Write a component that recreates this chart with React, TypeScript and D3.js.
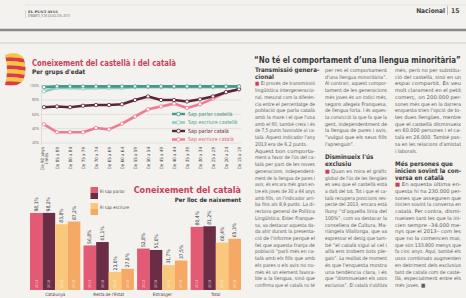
import React from 'react';
import * as d3 from 'd3';

// line chart: knowledge by age group (%)
const ageGroups = [
  'De 90 anys i més', 'De 85 a 89', 'De 80 a 84', 'De 75 a 79', 'De 70 a 74', 'De 65 a 69',
  'De 60 a 64', 'De 55 a 59', 'De 50 a 54', 'De 45 a 49', 'De 40 a 44', 'De 35 a 39',
  'De 30 a 34', 'De 25 a 29', 'De 20 a 24', 'De 15 a 19',
];
const parlarCastella = [98, 99, 99, 99, 99, 99, 99, 99, 99, 99, 99, 99, 99, 99, 99, 99];
const escriureCastella = [92, 97, 97, 96, 97, 97, 97, 98, 98, 98, 98, 98, 98, 98, 98, 99];
const parlarCatala = [70, 71, 70, 72, 73, 73, 74, 80, 85, 80, 80, 78, 81, 85, 91, 95];
const escriureCatala = [46, 35, 35, 35, 41, 39, 47, 57, 67, 71, 75, 69, 74, 82, 91, 95];
const lineTicks = [100, 80, 60, 40, 20];
const lineLegend = ['Sap parlar castellà', 'Sap escriure castellà', 'Sap parlar català', 'Sap escriure català'];

// bar chart: knowledge of Catalan by birthplace (%)
const birthPlaces = ['Catalunya', "Resta de l'Estat", 'Estranger', 'Total'];
const barYears = ['2013', '2018', '2013', '2018'];
const parla2013 = [98.1, 56.8, 52.8, 80.4];
const parla2018 = [98.2, 61.1, 51.0, 81.2];
const escriu2013 = [83.8, 23.0, 31.7, 60.4];
const escriu2018 = [87.2, 27.0, 37.5, 65.3];
const barLegend = ['El sap parlar', 'El sap escriure'];

// article columns ("*" heading, "|" end of paragraph)
const col1 = [
  '*Transmissió genera-', '*cional',
  '■ El procés de transmissió', 'lingüística intergeneracio-', 'nal, mesurat com la diferèn-',
  'cia entre el percentatge de', 'població que parla català', "amb la mare i el que l'usa",
  'amb el fill, també creix i és', 'de 7,5 punts favorable al ca-', "talà. Aquest indicador l'any",
  '2013 era de 6,2 punts.|', '   Aquest bon comporta-', "ment a favor de l'ús del ca-",
  'talà per part de les noves', 'generacions, independent-', 'ment de la llengua de pares i',
  'avis, és encara més gran en-', 'tre els joves de 30 a 44 anys', "amb fills, on l'indicador arri-",
  'ba fins als 8,9 punts. La di-', 'rectora general de Política', 'Lingüística, Ester Franque-',
  'sa, va destacar aquesta da-', 'da ahir durant la presenta-', "ció de l'informe perquè el",
  'fet que aquesta franja de', 'població “parli més en ca-', 'talà amb els fills que amb',
  'els pares o els avis no no-', 'més és un element favora-', 'ble a la llengua, sinó que',
  'confirma que el català no té',
];
const col2 = [
  'per res el comportament', "d'una llengua minoritària”.", 'Al contrari, aquest compor-',
  'tament de les generacions', 'més joves és un indici més,', 'segons afegeix Franquesa,',
  'de llengua forta. I és aques-', 'ta convicció la que fa que la', 'gent, independentment de',
  'la llengua de pares i avis,', '“vulgui que els seus fills', "l'aprenguin”.|", '',
  "*Disminueix l'ús", '*exclusiu',
  '■ Quan es mira el gràfic', "global de l'ús de les llengües", 'es veu que el castellà està',
  'a dalt del tot. Tot i que el ca-', 'talà recupera posicions res-', 'pecte del 2013, encara està',
  'lluny “d’aquella línia del', '100%”, com va destacar la', 'consellera de Cultura, Ma-',
  'riàngela Vilallonga, que va', 'expressar el desig que tam-', 'bé “el català sigui al cel i',
  'allà ens trobem tots ple-', 'gats”. La realitat de moment', "és que l'enquesta mostra",
  'una tendència clara, i és', 'que “disminueixen els usos', "exclusius”. El català s'utilitza",
];
const col3 = [
  'més, però no per substitu-', 'ció del castellà, sinó en un', 'espai compartit. Es veu',
  'molt clarament en el petit', 'comerç, on 200.000 per-', 'sones més que en la darrera',
  "enquesta trien l'opció de to-", 'tes dues llengües, mentre', 'que el castellà disminueix',
  'en 60.000 persones i el ca-', 'talà en 26.000. També pas-', "sa en les relacions d'amistat",
  'i laborals.|', '',
  '*Més persones que', '*inicien sovint la con-', '*versa en català',
  '■ En aquesta última en-', 'questa hi ha 230.000 per-', 'sones que asseguren que',
  'inicien sovint la conversa en', 'català. Per contra, dismi-', 'nueixen tant les que la ini-',
  'cien sempre –34.000 me-', 'nys que el 2013– com les', 'que no la comencen mai,',
  'que són 133.800 menys que', 'fa cinc anys. Aquí, també els', 'usos combinats augmenten',
  'en detriment dels exclusius', 'tant de català com de caste-', 'llà, especialment entre els',
  'més joves. ■|',
];

const RED = '#c93f5b';
const NARROW = '"Liberation Sans Narrow", "DejaVu Sans Condensed", sans-serif';
const SANS = '"Open Sans", "Noto Sans", sans-serif';

const fmt = (v: number) => v.toFixed(1).replace('.', ',') + '%';

function LineChart() {
  const x = d3.scalePoint<string>().domain(ageGroups).range([44, 239]);
  const y = d3.scaleLinear().domain([20, 100]).range([143, 85.7]);
  const series = [
    { name: lineLegend[3], values: escriureCatala, color: '#f07a92', text: '#e0607a' },
    { name: lineLegend[2], values: parlarCatala, color: '#5b2438', text: '#5b2438' },
    { name: lineLegend[1], values: escriureCastella, color: '#8ccbbb', text: '#4f9f90' },
    { name: lineLegend[0], values: parlarCastella, color: '#44998b', text: '#3f8f82' },
  ];
  const line = d3.line<number>().x((_, i) => x(ageGroups[i])!).y((d) => y(d));
  const legendOrder = [series[3], series[2], series[1], series[0]];
  return (
    <g>
      {lineTicks.map((t) => (
        <g key={t}>
          <line x1={41} x2={241} y1={y(t)} y2={y(t)} stroke="#d4d4d2" strokeWidth={0.6} />
          <text x={39} y={y(t) + 1.3} fontSize={3.6} textAnchor="end" fill="#666" fontFamily={SANS}>{t}%</text>
        </g>
      ))}
      <line x1={41.5} x2={41.5} y1={84} y2={145} stroke="#c9c9c6" strokeWidth={0.5} />
      {series.map((s) => (
        <g key={s.name}>
          <path d={line(s.values)!} fill="none" stroke={s.color} strokeWidth={2.6} strokeLinejoin="round" />
          {s.values.map((v, i) => (
            <circle key={i} cx={x(ageGroups[i])} cy={y(v)} r={1.7} fill="#fff" stroke={s.color} strokeWidth={0.8} />
          ))}
        </g>
      ))}
      {ageGroups.map((g) => {
        const parts = g === 'De 90 anys i més' ? ['De 90 anys', 'i més'] : [g];
        return (
          <g key={g} transform={`translate(${x(g)! + 1.5},147) rotate(-90)`}>
            {parts.map((p, j) => (
              <text key={p} x={parts.length > 1 && j === 1 ? -6 : 0} y={parts.length > 1 ? (j === 0 ? -2 : 2.6) : 0}
                fontSize={4.5} textAnchor="end" fill="#444" fontFamily={NARROW}>{p}</text>
            ))}
          </g>
        );
      })}
      {legendOrder.map((s, i) => {
        const ly = 114 + i * 8.5;
        return (
          <g key={s.name}>
            <line x1={172} x2={185} y1={ly} y2={ly} stroke={s.color} strokeWidth={2.4} />
            <circle cx={178.5} cy={ly} r={1.8} fill="#fff" stroke={s.color} strokeWidth={0.8} />
            <text x={188} y={ly + 1.8} fontSize={5.3} fill={s.text} fontFamily={NARROW}>{s.name}</text>
          </g>
        );
      })}
    </g>
  );
}

function BarChart() {
  const x0 = d3.scaleBand<string>().domain(birthPlaces).range([30, 241]).paddingInner(0.06);
  const x1 = d3.scaleBand<number>().domain([0, 1, 2, 3]).range([0, x0.bandwidth()]);
  const y = d3.scaleLinear().domain([0, 100]).range([290, 211.5]);
  const colors = ['#e35a74', '#6b2d46', '#f9c87c', '#f6a964'];
  const data = [parla2013, parla2018, escriu2013, escriu2018];
  return (
    <g>
      {birthPlaces.map((p, gi) => (
        <g key={p} transform={`translate(${x0(p)},0)`}>
          {data.map((arr, si) => {
            const v = arr[gi];
            const bx = x1(si)!;
            const bw = x1.bandwidth();
            return (
              <g key={si}>
                <rect x={bx} y={y(v)} width={bw} height={y(0) - y(v)} fill={colors[si]} />
                <text transform={`translate(${bx + bw / 2 + 1.6},${y(v) - 1.5}) rotate(-90)`} fontSize={5}
                  fill="#3a3a3a" fontFamily={NARROW}>{fmt(v)}</text>
                <text transform={`translate(${bx + bw / 2 + 1.3},288) rotate(-90)`} fontSize={3.6}
                  fill="#fff" fillOpacity={0.75} fontFamily={NARROW}>{barYears[si]}</text>
              </g>
            );
          })}
          <text x={x0.bandwidth() / 2} y={295.5} fontSize={4.4} textAnchor="middle" fill="#444" fontFamily={NARROW}>{p}</text>
        </g>
      ))}
      {barLegend.map((t, i) => {
        const ly = 187 + i * 16;
        return (
          <g key={t}>
            <rect x={90.5} y={ly} width={7.5} height={6} fill={colors[i * 2]} />
            <rect x={90.5} y={ly + 6} width={7.5} height={6} fill={colors[i * 2 + 1]} />
            <text x={100} y={ly + 5.5} fontSize={4.4} fill="#555" fontFamily={NARROW}>{t}</text>
          </g>
        );
      })}
      <text x={241} y={193} fontSize={9} fontWeight="bold" textAnchor="end" fill={RED} fontFamily={NARROW}>Coneixement del català</text>
      <text x={241} y={202} fontSize={6} fontWeight="bold" textAnchor="end" fill="#333" fontFamily={NARROW}>Per lloc de naixement</text>
    </g>
  );
}

function Column({ lines, x, w }: { lines: string[]; x: number; w: number }) {
  const y0 = 72;
  const lh = 6.72;
  return (
    <g>
      {lines.map((raw, i) => {
        if (!raw) return null;
        const yy = y0 + i * lh;
        if (raw.startsWith('*')) {
          return (
            <text key={i} x={x} y={yy} fontSize={6.3} fontWeight="bold" fill="#3b3b3b" fontFamily={NARROW}>{raw.slice(1)}</text>
          );
        }
        const end = raw.endsWith('|');
        const txt = end ? raw.slice(0, -1) : raw;
        const sq = txt.startsWith('■ ');
        return (
          <text key={i} x={x} y={yy} fontSize={5.1} fill="#5c5c5c" fontFamily={NARROW}
            textLength={end ? undefined : w} lengthAdjust="spacingAndGlyphs">
            {sq ? <tspan fill={RED}>■ </tspan> : null}
            {sq ? txt.slice(2) : txt}
          </text>
        );
      })}
    </g>
  );
}

function Flag() {
  const shape = 'M5,55 Q15,50 23,57 Q28,68 23,81 Q15,88 5,85 Q9,70 5,55 Z';
  const stripes = d3.range(0, 9);
  return (
    <g>
      <clipPath id="flagclip"><path d={shape} /></clipPath>
      <g clipPath="url(#flagclip)">
        {stripes.map((i) => (
          <path key={i} d={`M0,${50 + i * 4} Q15,${48 + i * 4} 30,${52 + i * 4} L30,${56 + i * 4} Q15,${52 + i * 4} 0,${54 + i * 4} Z`}
            fill={i % 2 === 0 ? (i < 2 ? '#e9a6ae' : '#de3b44') : '#f5c73c'} />
        ))}
      </g>
    </g>
  );
}

export default function App() {
  return (
    <div style={{ position: 'fixed', left: 0, top: 0 }}>
      <svg width={466} height={298} viewBox="0 0 466 298" style={{ display: 'block', background: '#f3f2ef' }}>
        <rect width={466} height={298} fill="#f3f2ef" />
        {/* masthead */}
        <line x1={25} x2={466} y1={5} y2={5} stroke="#d6d6d4" strokeWidth={0.6} />
        <line x1={25.5} x2={25.5} y1={10} y2={18} stroke="#bbb" strokeWidth={0.5} />
        <text x={28} y={13} fontSize={3.6} fontWeight="bold" fill="#333" fontFamily="'DejaVu Serif', serif">EL PUNT AVUI</text>
        <text x={28} y={17} fontSize={2.8} fill="#666" fontFamily={SANS}>DIMARTS, 9 DE JULIOL DEL 2019</text>
        <text x={445} y={13} fontSize={6.6} fontWeight="bold" textAnchor="end" fill="#444" fontFamily={NARROW}>Nacional</text>
        <line x1={447.5} x2={447.5} y1={6} y2={15} stroke="#999" strokeWidth={0.6} />
        <text x={451} y={13} fontSize={6.6} fontWeight="bold" fill="#444" fontFamily={NARROW}>15</text>
        <line x1={0} x2={466} y1={30} y2={30} stroke="#8a8688" strokeWidth={2.4} />
        <line x1={0} x2={466} y1={43} y2={43} stroke="#c9b7bb" strokeWidth={0.7} />

        {/* line chart */}
        <Flag />
        <text x={32} y={65.5} fontSize={9} fontWeight="bold" fill={RED} fontFamily={NARROW} textLength={144} lengthAdjust="spacingAndGlyphs">Coneixement del castellà i del català</text>
        <text x={32} y={74} fontSize={6.3} fontWeight="bold" fill="#333" fontFamily={NARROW}>Per grups d'edat</text>
        <LineChart />

        {/* bar chart */}
        <BarChart />

        {/* article */}
        <text transform="translate(254,63) scale(0.86,1)" fontSize={9.2} fontWeight="bold" fill="#3a3a3a" fontFamily={NARROW}>“No té el comportament d’una llengua minoritària”</text>
        <Column lines={col1} x={255} w={60} />
        <Column lines={col2} x={325} w={62} />
        <Column lines={col3} x={395} w={66} />
      </svg>
    </div>
  );
}
